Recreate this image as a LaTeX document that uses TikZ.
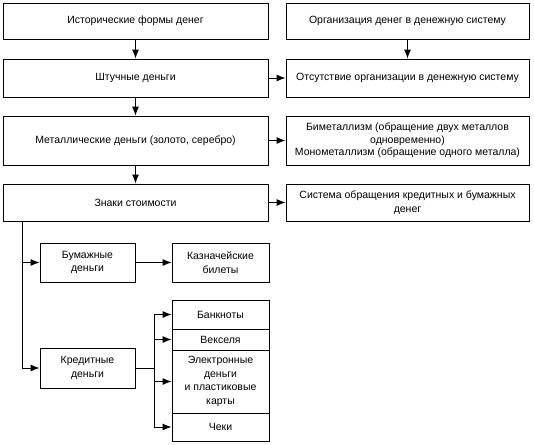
\documentclass[tikz,border=0pt]{standalone}
\usepackage{fontspec}
\setmainfont{Liberation Sans}
\usetikzlibrary{arrows.meta}
\begin{document}
\begin{tikzpicture}[x=1pt,y=-1pt,
  box/.style={draw, line width=0.9pt, align=center, inner sep=1pt,
    font=\fontsize{10.5}{13.5}\selectfont},
  lbox/.style={box, minimum width=265pt},
  rbox/.style={box, minimum width=243pt},
  sbox/.style={box, minimum width=95pt},
  stk/.style={box, minimum width=97pt},
  arr/.style={-{Latex[length=9pt,width=7pt]}, line width=0.9pt},
  ln/.style={line width=0.9pt}]
\useasboundingbox (0,0) rectangle (534,444);
\fill[white] (0,0) rectangle (534,444);
% left column
\node[lbox, minimum height=36pt] (hist) at (135.5,21) {Исторические формы денег};
\node[lbox, minimum height=38pt] (sht) at (135.5,78) {Штучные деньги};
\node[lbox, minimum height=49pt] (met) at (135.5,140.5) {Металлические деньги (золото, серебро)};
\node[lbox, minimum height=37pt] (zn) at (135.5,202.5) {Знаки стоимости};
% right column
\node[rbox, minimum height=36pt] (org) at (407.5,21) {Организация денег в денежную систему};
\node[rbox, minimum height=38pt] (ots) at (407.5,78) {Отсутствие организации в денежную систему};
\node[rbox, minimum height=49pt, font=\fontsize{10.5}{12.5}\selectfont] (bim) at (407.5,140.5) {Биметаллизм (обращение двух металлов\\одновременно)\\Монометаллизм (обращение одного металла)};
\node[rbox, minimum height=37pt] (sys) at (407.5,202.5) {Система обращения кредитных и бумажных\\денег};
% lower part
\node[sbox, minimum height=39pt] (bum) at (87.5,262.5) {Бумажные\\деньги};
\node[stk, minimum height=39pt] (kaz) at (220.5,262.5) {Казначейские\\билеты};
\node[sbox, minimum height=40pt] (kred) at (87.5,368) {Кредитные\\деньги};
\node[stk, minimum height=29pt] (ban) at (220.5,314.5) {Банкноты};
\node[stk, minimum height=21pt] (vek) at (220.5,339.5) {Векселя};
\node[stk, minimum height=63pt] (el) at (220.5,381.5) {Электронные\\деньги\\и пластиковые\\карты};
\node[stk, minimum height=28pt] (che) at (220.5,427) {Чеки};
\coordinate (trunk) at (22,221);
\coordinate (br) at (154,368);
% connectors
\draw[arr] (hist) -- (sht);
\draw[arr] (sht) -- (met);
\draw[arr] (met) -- (zn);
\draw[arr] (org) -- (ots);
\draw[arr] (sht) -- (ots);
\draw[arr] (met) -- (bim);
\draw[arr] (zn) -- (sys);
\draw[arr] (trunk) |- (bum.west);
\draw[arr] (trunk) |- (kred.west);
\draw[arr] (bum) -- (kaz);
\draw[ln] (kred.east) -- (br);
\draw[ln] (br |- ban.west) -- (br |- che.west);
\draw[arr] (br |- ban.west) -- (ban.west);
\draw[arr] (br |- vek.west) -- (vek.west);
\draw[arr] (br |- el.west) -- (el.west);
\draw[arr] (br |- che.west) -- (che.west);
\end{tikzpicture}
\end{document}
